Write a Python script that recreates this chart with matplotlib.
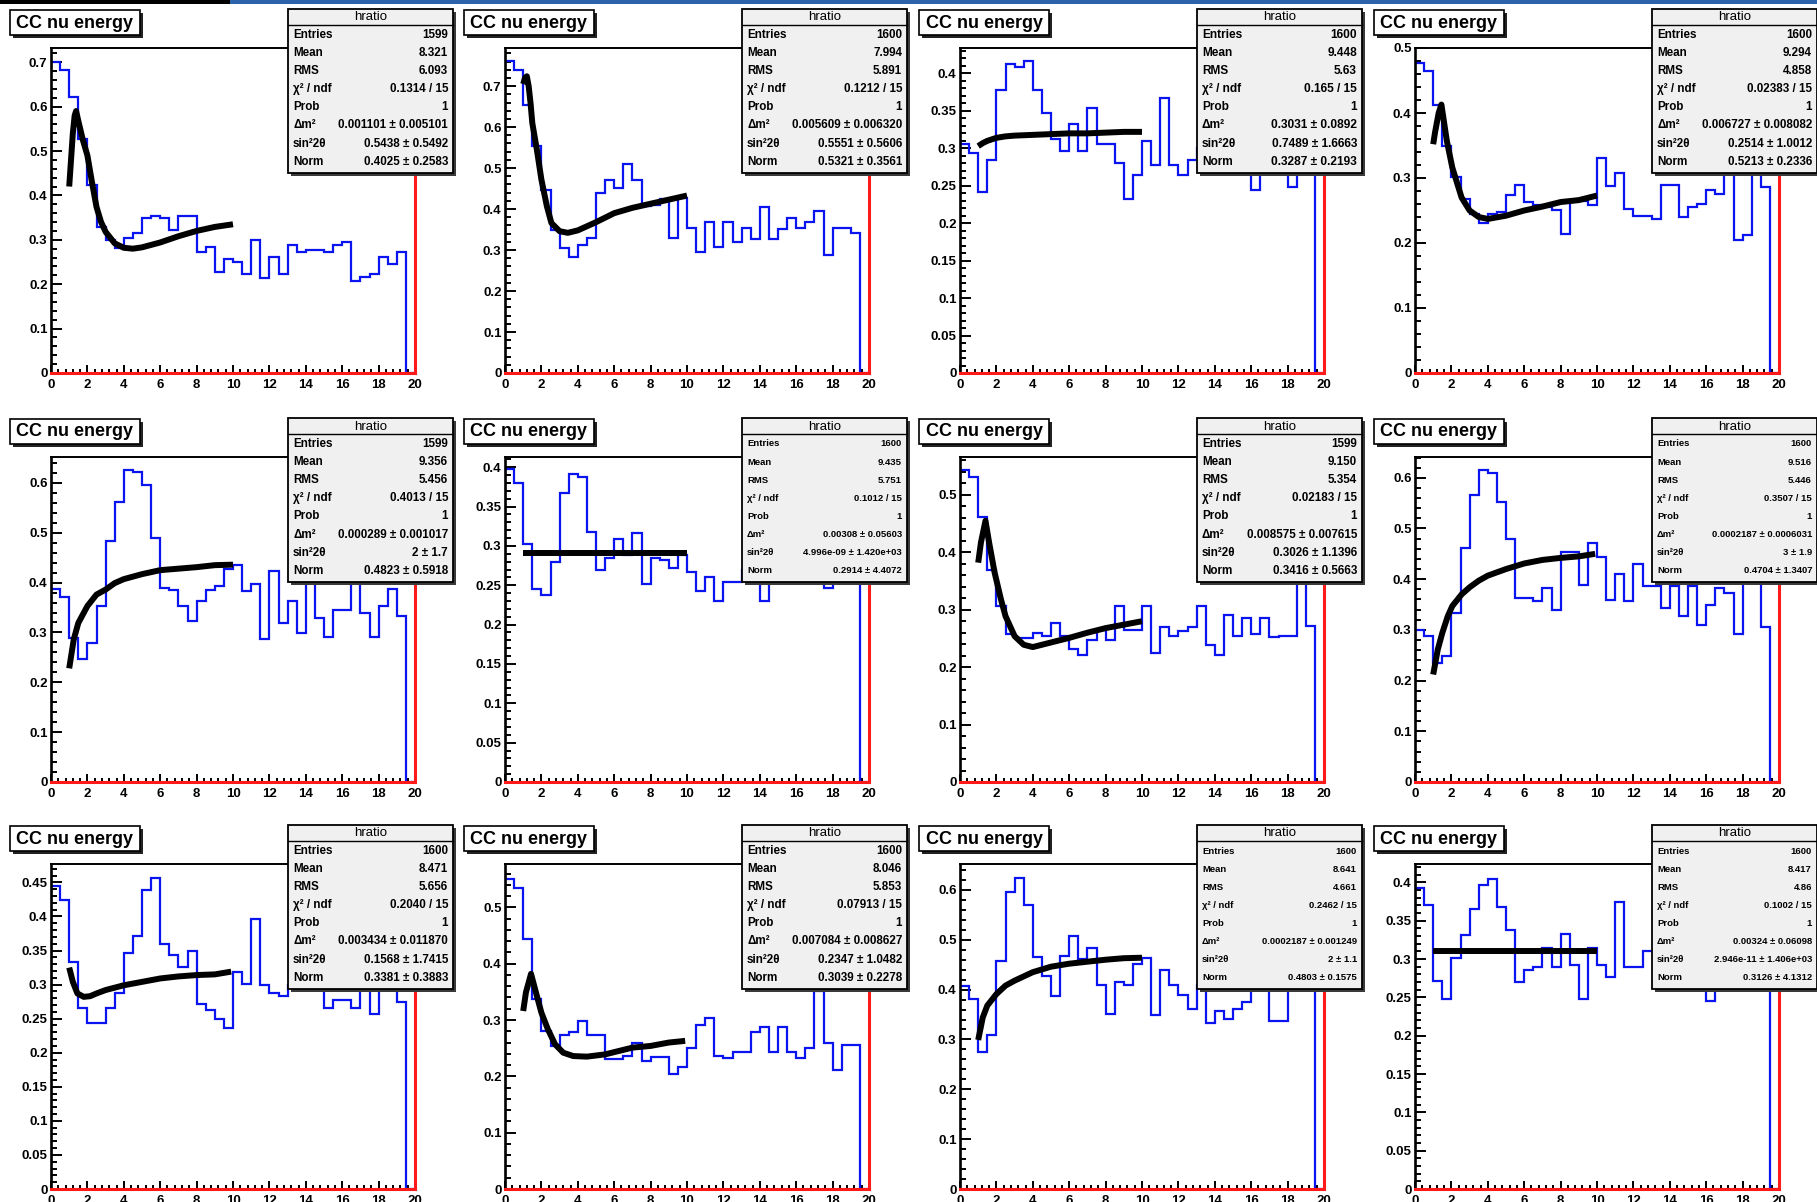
import numpy as np
import matplotlib
matplotlib.use("Agg")
import matplotlib.pyplot as plt
from matplotlib.patches import Rectangle
from matplotlib.ticker import MultipleLocator, FuncFormatter

plt.rcParams['font.family'] = ['Liberation Sans', 'DejaVu Sans']

# ---------------------------------------------------------------------------
# CC nu energy ratio histograms (40 bins, 0-20 GeV) and oscillation fits
# ---------------------------------------------------------------------------
ratio_p1 = [0.700, 0.683, 0.621, 0.528, 0.423, 0.329, 0.300, 0.281, 0.303, 0.316,
            0.348, 0.353, 0.348, 0.322, 0.353, 0.353, 0.272, 0.284, 0.228, 0.256,
            0.251, 0.223, 0.300, 0.213, 0.262, 0.223, 0.288, 0.272, 0.278, 0.278,
            0.273, 0.288, 0.294, 0.208, 0.216, 0.223, 0.262, 0.246, 0.272, 0.0]
ratio_p2 = [0.761, 0.740, 0.655, 0.553, 0.447, 0.350, 0.305, 0.282, 0.313, 0.330,
            0.439, 0.472, 0.452, 0.509, 0.472, 0.407, 0.411, 0.425, 0.330, 0.427,
            0.354, 0.295, 0.368, 0.308, 0.368, 0.319, 0.354, 0.327, 0.405, 0.327,
            0.351, 0.378, 0.354, 0.368, 0.396, 0.289, 0.354, 0.354, 0.342, 0.0]
ratio_p3 = [0.306, 0.294, 0.242, 0.284, 0.378, 0.413, 0.408, 0.416, 0.378, 0.347,
            0.312, 0.296, 0.332, 0.296, 0.354, 0.306, 0.306, 0.281, 0.233, 0.265,
            0.310, 0.278, 0.367, 0.278, 0.265, 0.284, 0.300, 0.285, 0.310, 0.290,
            0.300, 0.280, 0.245, 0.290, 0.300, 0.280, 0.249, 0.290, 0.300, 0.0]
ratio_p4 = [0.477, 0.464, 0.412, 0.349, 0.301, 0.268, 0.245, 0.230, 0.245, 0.247,
            0.274, 0.289, 0.263, 0.258, 0.255, 0.251, 0.214, 0.265, 0.265, 0.259,
            0.330, 0.288, 0.307, 0.253, 0.241, 0.241, 0.237, 0.289, 0.289, 0.240,
            0.256, 0.260, 0.282, 0.276, 0.321, 0.205, 0.212, 0.330, 0.286, 0.0]
ratio_p5 = [0.388, 0.372, 0.289, 0.247, 0.279, 0.354, 0.484, 0.561, 0.625, 0.622,
            0.595, 0.489, 0.390, 0.386, 0.353, 0.323, 0.363, 0.386, 0.393, 0.427,
            0.435, 0.383, 0.397, 0.286, 0.423, 0.319, 0.363, 0.299, 0.433, 0.329,
            0.290, 0.345, 0.345, 0.400, 0.339, 0.290, 0.354, 0.388, 0.334, 0.0]
ratio_p6 = [0.398, 0.380, 0.303, 0.245, 0.238, 0.279, 0.367, 0.392, 0.387, 0.318,
            0.269, 0.285, 0.309, 0.289, 0.316, 0.251, 0.285, 0.282, 0.272, 0.289,
            0.267, 0.243, 0.260, 0.230, 0.254, 0.254, 0.270, 0.280, 0.230, 0.270,
            0.280, 0.290, 0.270, 0.280, 0.270, 0.247, 0.270, 0.290, 0.300, 0.0]
ratio_p7 = [0.543, 0.531, 0.461, 0.370, 0.306, 0.257, 0.251, 0.251, 0.260, 0.254,
            0.277, 0.254, 0.232, 0.222, 0.248, 0.265, 0.248, 0.306, 0.265, 0.265,
            0.306, 0.225, 0.270, 0.255, 0.263, 0.270, 0.306, 0.239, 0.222, 0.290,
            0.255, 0.286, 0.258, 0.286, 0.253, 0.255, 0.255, 0.347, 0.272, 0.0]
ratio_p8 = [0.300, 0.288, 0.235, 0.248, 0.333, 0.462, 0.567, 0.615, 0.610, 0.552,
            0.479, 0.362, 0.362, 0.357, 0.382, 0.339, 0.453, 0.453, 0.389, 0.472,
            0.443, 0.358, 0.410, 0.357, 0.430, 0.387, 0.387, 0.344, 0.387, 0.327,
            0.387, 0.309, 0.349, 0.382, 0.372, 0.291, 0.430, 0.460, 0.306, 0.0]
ratio_p9 = [0.444, 0.424, 0.333, 0.265, 0.244, 0.244, 0.265, 0.287, 0.346, 0.372,
            0.439, 0.456, 0.360, 0.343, 0.326, 0.350, 0.272, 0.262, 0.250, 0.236,
            0.319, 0.301, 0.396, 0.299, 0.287, 0.283, 0.300, 0.310, 0.300, 0.300,
            0.265, 0.277, 0.277, 0.265, 0.320, 0.257, 0.310, 0.300, 0.275, 0.0]
ratio_p10 = [0.551, 0.534, 0.444, 0.337, 0.281, 0.254, 0.273, 0.278, 0.299, 0.273,
             0.273, 0.230, 0.230, 0.237, 0.260, 0.227, 0.235, 0.235, 0.204, 0.217,
             0.251, 0.291, 0.303, 0.237, 0.233, 0.243, 0.243, 0.278, 0.287, 0.243,
             0.287, 0.243, 0.233, 0.251, 0.352, 0.259, 0.212, 0.255, 0.255, 0.0]
ratio_p11 = [0.407, 0.381, 0.275, 0.309, 0.458, 0.595, 0.623, 0.569, 0.465, 0.427,
             0.387, 0.468, 0.507, 0.462, 0.483, 0.409, 0.351, 0.415, 0.409, 0.452,
             0.463, 0.349, 0.440, 0.409, 0.389, 0.362, 0.410, 0.333, 0.358, 0.341,
             0.362, 0.376, 0.430, 0.440, 0.338, 0.338, 0.450, 0.420, 0.400, 0.0]
ratio_p12 = [0.393, 0.371, 0.271, 0.248, 0.301, 0.332, 0.365, 0.396, 0.405, 0.368,
             0.338, 0.270, 0.286, 0.290, 0.314, 0.290, 0.333, 0.292, 0.248, 0.314,
             0.292, 0.276, 0.374, 0.290, 0.290, 0.311, 0.310, 0.300, 0.320, 0.290,
             0.300, 0.310, 0.245, 0.300, 0.310, 0.300, 0.290, 0.310, 0.300, 0.0]

# fitted oscillation curves (energy, ratio) over 1-10 GeV
fit_e_p1 = [1.0, 1.1, 1.2, 1.3, 1.38, 1.5, 1.75, 2.0, 2.25, 2.5, 2.75, 3.0, 3.5, 4.0, 4.5, 5, 6, 7, 8, 9, 10]
fit_r_p1 = [0.42, 0.48, 0.54, 0.58, 0.59, 0.568, 0.525, 0.49, 0.43, 0.374, 0.34, 0.318, 0.292, 0.282, 0.28,
            0.283, 0.294, 0.308, 0.32, 0.329, 0.335]
fit_e_p2 = [1.0, 1.1, 1.2, 1.3, 1.4, 1.5, 1.75, 2.0, 2.3, 2.55, 3.0, 3.45, 4, 5, 6, 7, 8, 9, 10]
fit_r_p2 = [0.705, 0.72, 0.724, 0.70, 0.66, 0.61, 0.545, 0.472, 0.407, 0.366, 0.346, 0.342, 0.348,
            0.368, 0.39, 0.403, 0.413, 0.423, 0.433]
fit_e_p3 = [1.0, 1.25, 1.5, 2, 2.5, 3, 4, 5, 6, 7, 8, 9, 10]
fit_r_p3 = [0.303, 0.307, 0.31, 0.314, 0.316, 0.317, 0.318, 0.319, 0.32, 0.32, 0.321, 0.322, 0.322]
fit_e_p4 = [1.0, 1.1, 1.2, 1.3, 1.45, 1.6, 1.75, 2.05, 2.56, 3, 3.5, 4, 5, 6, 7, 8, 9, 10]
fit_r_p4 = [0.352, 0.37, 0.385, 0.40, 0.413, 0.385, 0.357, 0.316, 0.27, 0.25, 0.24, 0.237, 0.242,
            0.25, 0.256, 0.263, 0.266, 0.273]
fit_e_p5 = [1.0, 1.25, 1.5, 2.0, 2.5, 3.0, 3.5, 4.0, 5, 6, 7, 8, 9, 10]
fit_r_p5 = [0.228, 0.286, 0.319, 0.353, 0.376, 0.386, 0.399, 0.407, 0.417, 0.425, 0.428, 0.431, 0.435, 0.436]
fit_e_p6 = [1.0, 10.0]
fit_r_p6 = [0.2915, 0.2915]
fit_e_p7 = [1.0, 1.15, 1.4, 1.6, 1.9, 2.25, 2.5, 3.0, 3.5, 4, 5, 6, 7, 8, 9, 10]
fit_r_p7 = [0.382, 0.417, 0.455, 0.417, 0.365, 0.318, 0.289, 0.254, 0.239, 0.235, 0.243, 0.251,
            0.26, 0.268, 0.274, 0.28]
fit_e_p8 = [1.0, 1.25, 1.5, 1.8, 2.05, 2.56, 3.0, 3.5, 4.0, 5, 6, 7, 8, 9, 9.9]
fit_r_p8 = [0.212, 0.261, 0.294, 0.327, 0.347, 0.370, 0.384, 0.397, 0.407, 0.42, 0.431, 0.438,
            0.442, 0.445, 0.45]
fit_e_p9 = [1.0, 1.2, 1.45, 1.8, 2.15, 2.5, 3.0, 4.0, 5, 6, 7, 8, 9, 9.9]
fit_r_p9 = [0.325, 0.304, 0.287, 0.282, 0.283, 0.287, 0.292, 0.299, 0.304, 0.309, 0.312, 0.314,
            0.315, 0.319]
fit_e_p10 = [1.0, 1.15, 1.43, 1.7, 2.0, 2.35, 2.75, 3.2, 3.75, 4.5, 5.5, 7, 8, 9, 9.9]
fit_r_p10 = [0.316, 0.349, 0.382, 0.349, 0.313, 0.284, 0.257, 0.242, 0.236, 0.235, 0.239, 0.251,
             0.254, 0.26, 0.263]
fit_e_p11 = [1.0, 1.25, 1.5, 2.0, 2.5, 3.0, 4.0, 5, 6, 7, 8, 9, 10]
fit_r_p11 = [0.299, 0.344, 0.368, 0.391, 0.408, 0.418, 0.435, 0.446, 0.452, 0.456, 0.46, 0.463, 0.464]
fit_e_p12 = [1.0, 10.0]
fit_r_p12 = [0.311, 0.311]

# y-axis range and labelled tick step of each pad
y_max = [0.732, 0.793, 0.434, 0.50, 0.652, 0.413, 0.566, 0.641, 0.477, 0.577, 0.652, 0.424]
y_step = [0.1, 0.1, 0.05, 0.1, 0.1, 0.05, 0.1, 0.1, 0.05, 0.1, 0.1, 0.05]

# statistics box contents
stat_labels = ["Entries", "Mean", "RMS", "\u03c7\u00b2 / ndf", "Prob", "\u0394m\u00b2",
               "sin\u00b22\u03b8", "Norm"]
stats_p1 = ["1599", "8.321", "6.093", "0.1314 / 15", "1", "0.001101 \u00b1 0.005101",
            "0.5438 \u00b1 0.5492", "0.4025 \u00b1 0.2583"]
stats_p2 = ["1600", "7.994", "5.891", "0.1212 / 15", "1", "0.005609 \u00b1 0.006320",
            "0.5551 \u00b1 0.5606", "0.5321 \u00b1 0.3561"]
stats_p3 = ["1600", "9.448", "5.63", "0.165 / 15", "1", "0.3031 \u00b1 0.0892",
            "0.7489 \u00b1 1.6663", "0.3287 \u00b1 0.2193"]
stats_p4 = ["1600", "9.294", "4.858", "0.02383 / 15", "1", "0.006727 \u00b1 0.008082",
            "0.2514 \u00b1 1.0012", "0.5213 \u00b1 0.2336"]
stats_p5 = ["1599", "9.356", "5.456", "0.4013 / 15", "1", "0.000289 \u00b1 0.001017",
            "2 \u00b1 1.7", "0.4823 \u00b1 0.5918"]
stats_p6 = ["1600", "9.435", "5.751", "0.1012 / 15", "1", "0.00308 \u00b1 0.05603",
            "4.996e-09 \u00b1 1.420e+03", "0.2914 \u00b1 4.4072"]
stats_p7 = ["1599", "9.150", "5.354", "0.02183 / 15", "1", "0.008575 \u00b1 0.007615",
            "0.3026 \u00b1 1.1396", "0.3416 \u00b1 0.5663"]
stats_p8 = ["1600", "9.516", "5.446", "0.3507 / 15", "1", "0.0002187 \u00b1 0.0006031",
            "3 \u00b1 1.9", "0.4704 \u00b1 1.3407"]
stats_p9 = ["1600", "8.471", "5.656", "0.2040 / 15", "1", "0.003434 \u00b1 0.011870",
            "0.1568 \u00b1 1.7415", "0.3381 \u00b1 0.3883"]
stats_p10 = ["1600", "8.046", "5.853", "0.07913 / 15", "1", "0.007084 \u00b1 0.008627",
             "0.2347 \u00b1 1.0482", "0.3039 \u00b1 0.2278"]
stats_p11 = ["1600", "8.641", "4.661", "0.2462 / 15", "1", "0.0002187 \u00b1 0.001249",
             "2 \u00b1 1.1", "0.4803 \u00b1 0.1575"]
stats_p12 = ["1600", "8.417", "4.86", "0.1002 / 15", "1", "0.00324 \u00b1 0.06098",
             "2.946e-11 \u00b1 1.406e+03", "0.3126 \u00b1 4.1312"]
stat_font = [8.4, 8.4, 8.6, 8.4, 8.4, 6.8, 8.4, 6.8, 8.4, 8.4, 6.8, 6.8]

ratios = [ratio_p1, ratio_p2, ratio_p3, ratio_p4, ratio_p5, ratio_p6,
          ratio_p7, ratio_p8, ratio_p9, ratio_p10, ratio_p11, ratio_p12]
fits = [(fit_e_p1, fit_r_p1), (fit_e_p2, fit_r_p2), (fit_e_p3, fit_r_p3),
        (fit_e_p4, fit_r_p4), (fit_e_p5, fit_r_p5), (fit_e_p6, fit_r_p6),
        (fit_e_p7, fit_r_p7), (fit_e_p8, fit_r_p8), (fit_e_p9, fit_r_p9),
        (fit_e_p10, fit_r_p10), (fit_e_p11, fit_r_p11), (fit_e_p12, fit_r_p12)]
stats = [stats_p1, stats_p2, stats_p3, stats_p4, stats_p5, stats_p6,
         stats_p7, stats_p8, stats_p9, stats_p10, stats_p11, stats_p12]

bin_edges = np.linspace(0.0, 20.0, 41)

# ---------------------------------------------------------------------------
# canvas geometry (pixels)
# ---------------------------------------------------------------------------
W, H = 1817, 1202
frame_left = [51, 505, 960, 1415]
frame_top = [48, 457, 864]
frame_w, frame_h = 364, 325

fig = plt.figure(figsize=(W / 100, H / 100), dpi=100, facecolor='white')


def fmt_y(v, _pos):
    if abs(v) < 1e-9:
        return "0"
    return ("%.2f" % v).rstrip('0').rstrip('.')


for i in range(12):
    r, c = divmod(i, 4)
    L, T = frame_left[c], frame_top[r]
    ax = fig.add_axes([L / W, 1 - (T + frame_h) / H, frame_w / W, frame_h / H])
    ax.set_xlim(0, 20)
    ax.set_ylim(0, y_max[i])

    ax.stairs(ratios[i], bin_edges, baseline=0, color='#0a14f0', lw=1.6, zorder=2.2)
    fe, fr = fits[i]
    ax.plot(fe, fr, color='black', lw=4.3, zorder=2.4, solid_joinstyle='round',
            solid_capstyle='butt')
    ax.plot([0, 20], [0, 0], color='#ff1a1a', lw=2.2, clip_on=False, zorder=2.6)
    ax.plot([20, 20], [0, y_max[i]], color='#ff1a1a', lw=2.2, clip_on=False, zorder=2.6)

    ax.xaxis.set_major_locator(MultipleLocator(2))
    ax.xaxis.set_minor_locator(MultipleLocator(0.4))
    ax.yaxis.set_major_locator(MultipleLocator(y_step[i]))
    ax.yaxis.set_minor_locator(MultipleLocator(y_step[i] / 5))
    ax.xaxis.set_major_formatter(FuncFormatter(lambda v, p: "%d" % round(v)))
    ax.yaxis.set_major_formatter(FuncFormatter(fmt_y))
    ax.tick_params(which='both', direction='in', top=False, right=False,
                   color='black', width=1.4)
    ax.tick_params(axis='y', which='major', length=8, pad=2.5, labelsize=9.5)
    ax.tick_params(axis='y', which='minor', length=4)
    ax.tick_params(axis='x', which='major', length=6, pad=4, labelsize=9.5)
    ax.tick_params(axis='x', which='minor', length=3)
    for lab in ax.get_xticklabels() + ax.get_yticklabels():
        lab.set_fontweight('bold')
    for side in ['top', 'right', 'bottom']:
        ax.spines[side].set_linewidth(1.4)
    ax.spines['left'].set_linewidth(1.9)

# ---------------------------------------------------------------------------
# overlay in pixel coordinates: title boxes, statistics boxes, window strip
# ---------------------------------------------------------------------------
ov = fig.add_axes([0, 0, 1, 1], zorder=10)
ov.set_xlim(0, W)
ov.set_ylim(H, 0)
ov.set_facecolor('none')
ov.axis('off')

ov.add_patch(Rectangle((0, 0), 230, 4, facecolor='black', edgecolor='none'))
ov.add_patch(Rectangle((230, 0), W - 230, 4, facecolor='#2c63aa', edgecolor='none'))

for i in range(12):
    r, c = divmod(i, 4)
    L, T = frame_left[c], frame_top[r]

    # pad title
    tx, ty, tw, th = L - 41, T - 38, 130, 25
    ov.add_patch(Rectangle((tx + 3, ty + 3), tw, th, facecolor='#222222', edgecolor='none'))
    ov.add_patch(Rectangle((tx, ty), tw, th, facecolor='white', edgecolor='black', lw=1.2))
    ov.text(tx + tw / 2, ty + th / 2 + 0.5, "CC nu energy", ha='center', va='center',
            fontsize=13, fontweight='bold')

    # statistics box
    sx, sy, sw, sh = L + 237, T - 39, 165, 164
    ov.add_patch(Rectangle((sx + 3, sy + 3), sw, sh, facecolor='#3a3a3a', edgecolor='none'))
    ov.add_patch(Rectangle((sx, sy), sw, sh, facecolor='#f0f0f0', edgecolor='black', lw=1.3))
    ov.plot([sx, sx + sw], [sy + 16, sy + 16], color='black', lw=1.0)
    ov.text(sx + sw / 2, sy + 8.5, "hratio", ha='center', va='center', fontsize=9.5)
    fs = stat_font[i]
    for k, (lab, val) in enumerate(zip(stat_labels, stats[i])):
        yy = sy + 26 + 18.1 * k
        ov.text(sx + 5, yy, lab, ha='left', va='center', fontsize=fs, fontweight='bold')
        ov.text(sx + sw - 5, yy, val, ha='right', va='center', fontsize=fs, fontweight='bold')

fig.savefig("out.png", dpi=100, facecolor='white')
